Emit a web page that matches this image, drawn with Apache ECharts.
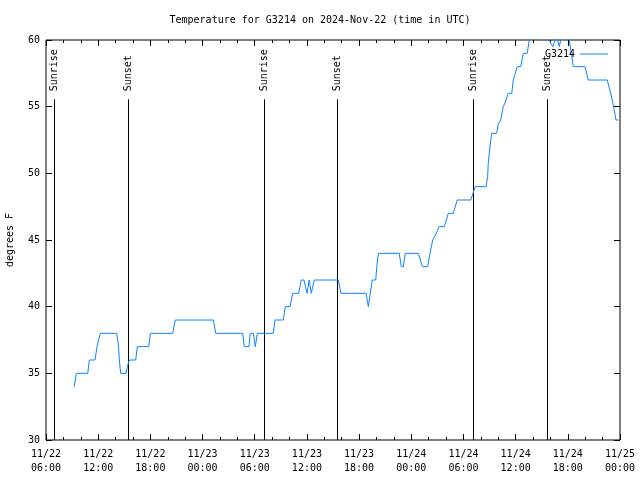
<!DOCTYPE html>
<html>
<head>
<meta charset="utf-8">
<script src="https://cdn.jsdelivr.net/npm/echarts@6/dist/echarts.min.js"></script>
<style>html,body{margin:0;padding:0;background:#fff}#c{width:640px;height:480px}</style>
</head>
<body>
<div id="c"></div>
<script>
// ---- data ----
const titleText = 'Temperature for G3214 on 2024-Nov-22 (time in UTC)';
const seriesName = 'G3214';
const times = [
 '2024-11-22 09:15','2024-11-22 09:29','2024-11-22 10:48','2024-11-22 10:59','2024-11-22 11:38','2024-11-22 11:52',
 '2024-11-22 12:02','2024-11-22 12:15','2024-11-22 14:08','2024-11-22 14:19','2024-11-22 14:26','2024-11-22 14:35',
 '2024-11-22 15:12','2024-11-22 15:21','2024-11-22 15:35','2024-11-22 16:19','2024-11-22 16:30','2024-11-22 17:49',
 '2024-11-22 18:00','2024-11-22 20:34','2024-11-22 20:52','2024-11-23 01:14','2024-11-23 01:31','2024-11-23 04:37',
 '2024-11-23 04:48','2024-11-23 05:20','2024-11-23 05:29','2024-11-23 05:50','2024-11-23 06:04','2024-11-23 06:18',
 '2024-11-23 08:08','2024-11-23 08:20','2024-11-23 09:17','2024-11-23 09:31','2024-11-23 10:03','2024-11-23 10:22',
 '2024-11-23 11:03','2024-11-23 11:21','2024-11-23 11:40','2024-11-23 12:01','2024-11-23 12:16','2024-11-23 12:30',
 '2024-11-23 12:51','2024-11-23 15:37','2024-11-23 15:55','2024-11-23 18:48','2024-11-23 19:04','2024-11-23 19:17',
 '2024-11-23 19:31','2024-11-23 19:55','2024-11-23 20:02','2024-11-23 20:13','2024-11-23 22:37','2024-11-23 22:51',
 '2024-11-23 23:05','2024-11-23 23:19','2024-11-24 00:49','2024-11-24 01:16','2024-11-24 01:53','2024-11-24 02:09',
 '2024-11-24 02:28','2024-11-24 02:44','2024-11-24 03:00','2024-11-24 03:11','2024-11-24 03:48','2024-11-24 04:16',
 '2024-11-24 04:50','2024-11-24 05:17','2024-11-24 06:50','2024-11-24 07:06','2024-11-24 07:20','2024-11-24 08:36',
 '2024-11-24 08:47','2024-11-24 08:51','2024-11-24 09:03','2024-11-24 09:15','2024-11-24 09:49','2024-11-24 10:00',
 '2024-11-24 10:17','2024-11-24 10:24','2024-11-24 10:35','2024-11-24 10:47','2024-11-24 11:09','2024-11-24 11:33',
 '2024-11-24 11:44','2024-11-24 12:11','2024-11-24 12:35','2024-11-24 12:53','2024-11-24 13:20','2024-11-24 13:34',
 '2024-11-24 13:53','2024-11-24 15:29','2024-11-24 15:52','2024-11-24 16:16','2024-11-24 16:32','2024-11-24 16:42',
 '2024-11-24 16:50','2024-11-24 17:01','2024-11-24 17:11','2024-11-24 17:27','2024-11-24 17:54','2024-11-24 18:10',
 '2024-11-24 18:24','2024-11-24 18:38','2024-11-24 19:58','2024-11-24 20:21','2024-11-24 22:32','2024-11-24 22:39',
 '2024-11-24 22:56','2024-11-24 23:10','2024-11-24 23:21','2024-11-24 23:32','2024-11-24 23:48'
];
const temps = [
 34,35,35,36,36,37,
 37.5,38,38,37.2,36,35,
 35,35.5,36,36,37,37,
 38,38,39,39,38,38,
 37,37,38,38,37,38,
 38,39,39,40,40,41,
 41,42,42,41,42,41,
 42,42,41,41,40,41,
 42,42,43,44,44,43,
 43,44,44,43,43,44,
 45,45.3,45.7,46,46,47,
 47,48,48,48.5,49,49,
 49.75,50.75,52,53,53,53.7,
 54,54.4,55,55.3,56,56,
 57,58,58,59,59,60,
 61,61,60,59.5,60,60.5,
 60,59.5,60,61,61,60,
 59,58,58,57,57,56.7,
 56,55.3,54.7,54,54
];
const sunTimes = ['2024-11-22 06:57','2024-11-22 15:28','2024-11-23 07:06','2024-11-23 15:30','2024-11-24 07:08','2024-11-24 15:34'];
const sunLabels = ['Sunrise','Sunset','Sunrise','Sunset','Sunrise','Sunset'];
const xMinStr = '2024-11-22 06:00';
const xMaxStr = '2024-11-25 00:00';
const yMin = 30, yMax = 60, yStep = 5;
const yLabel = 'degrees F';

// ---- helpers ----
function utc(s){
  const m = s.match(/(\d+)-(\d+)-(\d+) (\d+):(\d+)/);
  return Date.UTC(+m[1], +m[2]-1, +m[3], +m[4], +m[5]);
}
function pad(n){return (n<10?'0':'')+n;}
const H6 = 6*3600*1000;
const FONT = 'DejaVu Sans Mono';
const lineData = times.map((t,i)=>[utc(t), temps[i]]);
const sunData = sunTimes.map(t=>[utc(t)]);
const SUN_TOP = 55.55;

const chart = echarts.init(document.getElementById('c'), null, {renderer:'canvas'});
const xCommon = {
  type:'value', min:utc(xMinStr), max:utc(xMaxStr), interval:H6,
  splitLine:{show:false}, axisLine:{show:false},
  axisTick:{show:true, inside:true, length:6, lineStyle:{color:'#000'}},
  minorTick:{show:true, splitNumber:3, length:3, lineStyle:{color:'#000'}},
  minorSplitLine:{show:false}
};
const yCommon = {
  type:'value', min:yMin, max:yMax, interval:yStep,
  splitLine:{show:false}, axisLine:{show:false},
  axisTick:{show:true, inside:true, length:6, lineStyle:{color:'#000'}}
};
chart.setOption({
  animation:false,
  backgroundColor:'#fff',
  title:{text:titleText, left:'center', top:10, textStyle:{fontFamily:FONT, fontSize:10, fontWeight:'normal', color:'#000'}},
  legend:{show:true, right:27, top:44, align:'right', icon:'rect', itemWidth:28, itemHeight:1,
    textStyle:{fontFamily:FONT, fontSize:10, color:'#000'}, data:[seriesName], selectedMode:false},
  grid:{left:46, right:20, top:40, bottom:40, show:true, borderColor:'#000', borderWidth:1, backgroundColor:'transparent',
    containLabel:false, outerBoundsMode:'none'},
  xAxis:[
    Object.assign({}, xCommon, {position:'bottom',
      axisLabel:{show:true, margin:7, fontFamily:FONT, fontSize:10, color:'#000', lineHeight:14,
        formatter:function(v){const d=new Date(v);return pad(d.getUTCMonth()+1)+'/'+pad(d.getUTCDate())+'\n'+pad(d.getUTCHours())+':'+pad(d.getUTCMinutes());}}}),
    Object.assign({}, xCommon, {position:'top', axisLabel:{show:false}})
  ],
  yAxis:[
    Object.assign({}, yCommon, {position:'left', name:yLabel, nameLocation:'middle', nameGap:31, nameRotate:90,
      nameTextStyle:{fontFamily:FONT, fontSize:10, color:'#000'},
      axisLabel:{show:true, margin:6, fontFamily:FONT, fontSize:10, color:'#000'}}),
    Object.assign({}, yCommon, {position:'right', axisLabel:{show:false}})
  ],
  series:[
    {
      type:'custom', name:'sun', xAxisIndex:0, yAxisIndex:0, silent:true, z:1,
      data:sunData,
      renderItem:function(params, api){
        const x = api.value(0);
        const p0 = api.coord([x, yMin]);
        const p1 = api.coord([x, SUN_TOP]);
        const px = Math.round(p0[0]) + 0.5;
        return {type:'group', children:[
          {type:'line', shape:{x1:px, y1:p0[1], x2:px, y2:p1[1]}, style:{stroke:'#000', lineWidth:1}},
          {type:'text', x:px, y:p1[1]-8, rotation:Math.PI/2,
            style:{text:sunLabels[params.dataIndex], textAlign:'left', textVerticalAlign:'middle',
              font:'10px "'+FONT+'"', fill:'#000'}}
        ]};
      }
    },
    {
      type:'line', name:seriesName, data:lineData, xAxisIndex:0, yAxisIndex:0, z:3,
      showSymbol:false, symbol:'none', clip:true,
      lineStyle:{color:'#0a84ff', width:1}, itemStyle:{color:'#0a84ff'}
    }
  ]
});
</script>
</body>
</html>
